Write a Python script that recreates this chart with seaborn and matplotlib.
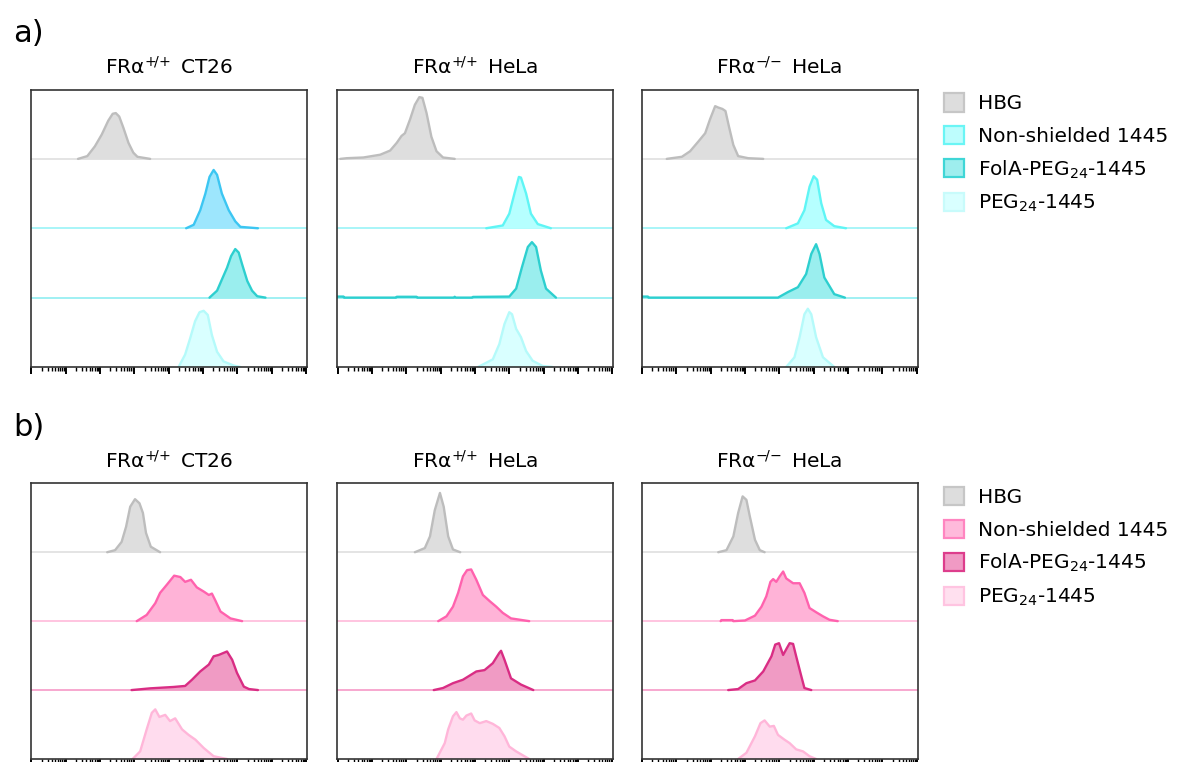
import numpy as np
import pandas as pd
import matplotlib
matplotlib.use("Agg")
import matplotlib.pyplot as plt
import seaborn as sns
from matplotlib.ticker import LogLocator, NullFormatter
from matplotlib.patches import Patch

# ---------------- data ----------------
SERIES = ["HBG", "Non-shielded 1445", "FolA-PEG$_{24}$-1445", "PEG$_{24}$-1445"]
CELL_LINES = [r"FRα$^{+\!/\!+}$ CT26", r"FRα$^{+\!/\!+}$ HeLa", r"FRα$^{-\!/\!-}$ HeLa"]
ROW_LABELS = ["a)", "b)"]

# each curve: (log10 fluorescence, height as fraction of one lane)
A_CT26_HBG = [(1.36, 0.0), (1.63, 0.04), (1.85, 0.18), (2.05, 0.35), (2.24, 0.55), (2.37, 0.65), (2.46, 0.66),
              (2.56, 0.61), (2.68, 0.45), (2.83, 0.23), (2.97, 0.09), (3.09, 0.03), (3.46, 0.0)]
A_CT26_NON = [(4.51, 0.0), (4.73, 0.05), (4.92, 0.26), (5.07, 0.50), (5.19, 0.74), (5.31, 0.84), (5.41, 0.77),
              (5.55, 0.50), (5.75, 0.26), (5.94, 0.10), (6.09, 0.02), (6.60, 0.0)]
A_CT26_FOLA = [(5.19, 0.0), (5.41, 0.10), (5.55, 0.26), (5.70, 0.43), (5.82, 0.60), (5.94, 0.70), (6.04, 0.65),
               (6.14, 0.48), (6.29, 0.24), (6.43, 0.10), (6.58, 0.02), (6.82, 0.0)]
A_CT26_PEG = [(4.29, 0.0), (4.48, 0.18), (4.63, 0.42), (4.77, 0.66), (4.90, 0.79), (5.02, 0.81), (5.14, 0.75),
              (5.26, 0.46), (5.41, 0.22), (5.60, 0.08), (5.90, 0.02), (6.09, 0.0)]

A_HELA_HBG = [(0.08, 0.0), (0.27, 0.01), (0.75, 0.02), (1.24, 0.06), (1.53, 0.12), (1.72, 0.23), (1.86, 0.33),
              (1.96, 0.37), (2.11, 0.57), (2.25, 0.78), (2.38, 0.89), (2.47, 0.88), (2.59, 0.66), (2.73, 0.32),
              (2.88, 0.11), (3.07, 0.02), (3.41, 0.0)]
A_HELA_NON = [(4.33, 0.0), (4.81, 0.04), (5.00, 0.21), (5.15, 0.50), (5.28, 0.74), (5.34, 0.73), (5.49, 0.50),
              (5.63, 0.21), (5.83, 0.06), (6.21, 0.0)]
A_HELA_FOLA = [(0.0, 0.015), (0.17, 0.015), (0.19, 0.0), (1.70, 0.0), (1.72, 0.012), (2.30, 0.012), (2.32, 0.0),
               (3.38, 0.0), (3.41, 0.012), (3.44, 0.0), (3.92, 0.0), (3.94, 0.01), (5.00, 0.015), (5.20, 0.13),
               (5.37, 0.44), (5.54, 0.73), (5.66, 0.80), (5.78, 0.73), (5.92, 0.39), (6.07, 0.13), (6.36, 0.0)]
A_HELA_PEG = [(4.09, 0.0), (4.52, 0.11), (4.71, 0.33), (4.86, 0.62), (5.00, 0.79), (5.08, 0.76), (5.20, 0.55),
              (5.34, 0.43), (5.49, 0.23), (5.68, 0.09), (5.97, 0.015), (6.26, 0.0)]

A_KO_HBG = [(0.72, 0.0), (1.16, 0.03), (1.40, 0.11), (1.64, 0.25), (1.84, 0.37), (1.98, 0.57), (2.13, 0.76),
            (2.22, 0.74), (2.34, 0.72), (2.43, 0.69), (2.53, 0.47), (2.66, 0.20), (2.80, 0.04), (3.09, 0.01),
            (3.53, 0.0)]
A_KO_NON = [(4.20, 0.0), (4.54, 0.07), (4.73, 0.26), (4.88, 0.60), (5.00, 0.75), (5.10, 0.70), (5.22, 0.36),
            (5.36, 0.12), (5.60, 0.03), (5.94, 0.0)]
A_KO_FOLA = [(0.0, 0.015), (0.17, 0.015), (0.19, 0.0), (3.96, 0.0), (4.25, 0.08), (4.54, 0.15), (4.78, 0.34),
             (4.93, 0.63), (5.07, 0.77), (5.17, 0.63), (5.31, 0.29), (5.60, 0.05), (5.91, 0.0)]
A_KO_PEG = [(4.20, 0.0), (4.44, 0.14), (4.59, 0.43), (4.73, 0.76), (4.83, 0.84), (4.93, 0.76), (5.07, 0.43),
            (5.27, 0.14), (5.60, 0.0)]

B_CT26_HBG = [(2.21, 0.0), (2.44, 0.03), (2.63, 0.15), (2.76, 0.37), (2.88, 0.66), (3.02, 0.77), (3.15, 0.71),
              (3.25, 0.57), (3.34, 0.28), (3.48, 0.08), (3.75, 0.0)]
B_CT26_NON = [(3.07, 0.0), (3.36, 0.09), (3.61, 0.26), (3.75, 0.41), (3.95, 0.53), (4.16, 0.66), (4.34, 0.64),
              (4.48, 0.57), (4.65, 0.60), (4.82, 0.49), (5.02, 0.43), (5.17, 0.38), (5.26, 0.40), (5.36, 0.30),
              (5.51, 0.14), (5.80, 0.04), (6.14, 0.0)]
B_CT26_FOLA = [(2.92, 0.0), (3.46, 0.025), (4.14, 0.045), (4.48, 0.06), (4.68, 0.15), (4.92, 0.27), (5.17, 0.37),
               (5.31, 0.49), (5.46, 0.51), (5.70, 0.56), (5.85, 0.44), (5.99, 0.25), (6.19, 0.05), (6.34, 0.015),
               (6.60, 0.0)]
B_CT26_PEG = [(2.95, 0.0), (3.17, 0.11), (3.36, 0.43), (3.51, 0.67), (3.61, 0.72), (3.73, 0.61), (3.90, 0.64),
              (4.04, 0.55), (4.19, 0.59), (4.39, 0.43), (4.58, 0.35), (4.78, 0.28), (5.02, 0.16), (5.31, 0.04),
              (5.70, 0.0)]

B_HELA_HBG = [(2.25, 0.0), (2.54, 0.06), (2.69, 0.23), (2.83, 0.61), (2.98, 0.86), (3.09, 0.66), (3.22, 0.23),
              (3.36, 0.04), (3.57, 0.0)]
B_HELA_NON = [(2.93, 0.0), (3.17, 0.07), (3.36, 0.21), (3.51, 0.41), (3.65, 0.65), (3.77, 0.74), (3.89, 0.75),
              (4.04, 0.60), (4.23, 0.38), (4.43, 0.29), (4.62, 0.21), (4.81, 0.12), (5.05, 0.04), (5.58, 0.0)]
B_HELA_FOLA = [(2.80, 0.0), (3.07, 0.03), (3.36, 0.10), (3.65, 0.15), (4.04, 0.27), (4.28, 0.29), (4.52, 0.39),
               (4.71, 0.54), (4.76, 0.57), (4.86, 0.44), (5.05, 0.17), (5.34, 0.08), (5.70, 0.0)]
B_HELA_PEG = [(2.88, 0.0), (3.12, 0.23), (3.22, 0.43), (3.36, 0.62), (3.46, 0.68), (3.56, 0.59), (3.65, 0.57),
              (3.75, 0.63), (3.89, 0.66), (3.99, 0.56), (4.14, 0.52), (4.33, 0.55), (4.52, 0.51), (4.71, 0.45),
              (4.86, 0.33), (5.00, 0.18), (5.20, 0.11), (5.58, 0.0)]

B_KO_HBG = [(2.22, 0.0), (2.46, 0.03), (2.66, 0.23), (2.80, 0.57), (2.93, 0.81), (3.04, 0.76), (3.14, 0.52),
            (3.29, 0.18), (3.43, 0.03), (3.57, 0.0)]
B_KO_NON = [(2.29, 0.0), (2.31, 0.015), (2.64, 0.015), (2.66, 0.0), (3.00, 0.01), (3.29, 0.08), (3.48, 0.21),
            (3.62, 0.36), (3.74, 0.57), (3.82, 0.61), (3.91, 0.57), (4.01, 0.65), (4.11, 0.72), (4.20, 0.62),
            (4.40, 0.55), (4.59, 0.55), (4.73, 0.41), (4.88, 0.19), (5.07, 0.13), (5.27, 0.07), (5.46, 0.02),
            (5.70, 0.0)]
B_KO_FOLA = [(2.51, 0.0), (2.80, 0.015), (3.04, 0.10), (3.29, 0.14), (3.53, 0.27), (3.77, 0.49), (3.88, 0.66),
             (3.99, 0.68), (4.11, 0.51), (4.22, 0.61), (4.30, 0.68), (4.40, 0.67), (4.49, 0.49), (4.64, 0.20),
             (4.73, 0.03), (4.93, 0.0)]
B_KO_PEG = [(2.80, 0.0), (3.04, 0.09), (3.29, 0.33), (3.45, 0.52), (3.57, 0.56), (3.72, 0.47), (3.84, 0.48),
            (3.96, 0.35), (4.15, 0.28), (4.30, 0.23), (4.49, 0.14), (4.69, 0.11), (4.88, 0.04), (5.07, 0.0)]

ROW_CURVES = [
    [[A_CT26_HBG, A_CT26_NON, A_CT26_FOLA, A_CT26_PEG],
     [A_HELA_HBG, A_HELA_NON, A_HELA_FOLA, A_HELA_PEG],
     [A_KO_HBG, A_KO_NON, A_KO_FOLA, A_KO_PEG]],
    [[B_CT26_HBG, B_CT26_NON, B_CT26_FOLA, B_CT26_PEG],
     [B_HELA_HBG, B_HELA_NON, B_HELA_FOLA, B_HELA_PEG],
     [B_KO_HBG, B_KO_NON, B_KO_FOLA, B_KO_PEG]],
]

# ---------------- style ----------------
A_FILL = ["#dedede", "#b6ffff", "#9aeeee", "#d9ffff"]
A_EDGE = ["#bdbdbd", "#5ff5f5", "#2dcfcf", "#b5fafa"]
A_BASE = ["#e4e4e4", "#a8f5f8", "#9ff0f3", "#c8fbfb"]
A_CT26_NON_FILL, A_CT26_NON_EDGE = "#9de6fd", "#3cc6f2"
B_FILL = ["#dedede", "#ffb3d7", "#f09bc4", "#ffdcee"]
B_EDGE = ["#bdbdbd", "#ff62ae", "#d92d84", "#ffb6d9"]
B_BASE = ["#e4e4e4", "#ffc4e0", "#f7a8cf", "#ffc4e0"]
A_LEG_FILL = ["#dddddd", "#bdfdfd", "#9eeeee", "#d9ffff"]
A_LEG_EDGE = ["#c6c6c6", "#6af5f5", "#3fd6d6", "#c8fbfb"]
B_LEG_FILL = ["#dddddd", "#ffbadb", "#f09ac4", "#ffe0ef"]
B_LEG_EDGE = ["#c6c6c6", "#ff85c0", "#dd3d8c", "#ffc4e1"]

sns.set_style("white")
plt.rcParams["font.family"] = ["DejaVu Sans"]
plt.rcParams["mathtext.fontset"] = "dejavusans"
plt.rcParams["text.color"] = "black"

W, H = 1186, 762
fig = plt.figure(figsize=(W / 100, H / 100), dpi=100)

col_left = [31.0, 337.3, 641.7]
col_w = 276.0
row_top = [89.5, 483.3]
row_h = [277.5, 275.7]
FS = 14.5


def draw_curve(ax, pts, offset, fill, edge):
    df = pd.DataFrame(pts, columns=["logx", "h"])
    df["x"] = 10.0 ** df["logx"]
    df["y"] = offset + df["h"]
    ax.fill_between(df["x"], offset, df["y"], color=fill, lw=0, zorder=2)
    sns.lineplot(data=df, x="x", y="y", ax=ax, color=edge, lw=1.7, sort=False,
                 estimator=None, zorder=3, solid_joinstyle="round")


for r in range(2):
    fills = A_FILL if r == 0 else B_FILL
    edges = A_EDGE if r == 0 else B_EDGE
    bases = A_BASE if r == 0 else B_BASE
    for c in range(3):
        left = col_left[c] / W
        bottom = 1 - (row_top[r] + row_h[r]) / H
        ax = fig.add_axes([left, bottom, col_w / W, row_h[r] / H])
        ax.set_xscale("log")
        for i, pts in enumerate(ROW_CURVES[r][c]):
            offset = 3 - i
            fcol, ecol = fills[i], edges[i]
            if r == 0 and c == 0 and i == 1:
                fcol, ecol = A_CT26_NON_FILL, A_CT26_NON_EDGE
            if offset > 0:
                ax.axhline(offset, color=bases[i], lw=1.4, zorder=1)
            draw_curve(ax, pts, offset, fcol, ecol)
        ax.set_xlim(10 ** -0.01, 10 ** 8.03)
        ax.set_ylim(0, 4)
        ax.set_xlabel("")
        ax.set_ylabel("")
        ax.set_yticks([])
        ax.xaxis.set_major_locator(LogLocator(base=10, numticks=20))
        ax.xaxis.set_minor_locator(LogLocator(base=10, subs=np.arange(2, 10), numticks=20))
        ax.xaxis.set_major_formatter(NullFormatter())
        ax.xaxis.set_minor_formatter(NullFormatter())
        ax.tick_params(axis="x", which="major", bottom=True, direction="out", length=5,
                       width=1.4, color="black")
        ax.tick_params(axis="x", which="minor", bottom=True, direction="out", length=3,
                       width=1.0, color="black")
        for sp in ax.spines.values():
            sp.set_visible(True)
            sp.set_color("#333333")
            sp.set_linewidth(1.2)
            sp.set_zorder(4)
        ax.set_title(CELL_LINES[c], fontsize=FS, pad=11, color="black")

    # row label
    fig.text(13 / W, 1 - (42 + (row_top[r] - row_top[0])) / H, ROW_LABELS[r],
             fontsize=22, va="baseline", ha="left", color="black")

    # legend
    lf = A_LEG_FILL if r == 0 else B_LEG_FILL
    le = A_LEG_EDGE if r == 0 else B_LEG_EDGE
    handles = [Patch(facecolor=lf[i], edgecolor=le[i], linewidth=1.6, label=SERIES[i]) for i in range(4)]
    fig.legend(handles=handles, loc="upper left",
               bbox_to_anchor=(944 / W, 1 - (row_top[r] + 4) / H),
               frameon=False, fontsize=FS, handlelength=1.0, handleheight=1.0,
               handletextpad=0.7, labelspacing=0.62, borderpad=0, borderaxespad=0,
               labelcolor="black")

fig.savefig("out.png", dpi=100, facecolor="white")
